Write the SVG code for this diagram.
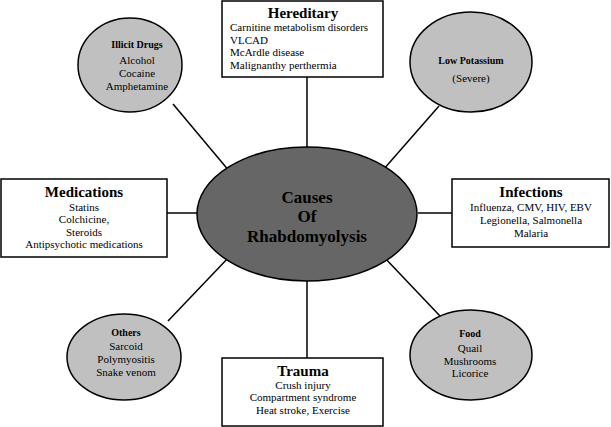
<svg xmlns="http://www.w3.org/2000/svg" width="611" height="427" viewBox="0 0 611 427">
<style>
text{font-family:'Liberation Serif','Times New Roman','DejaVu Serif',serif;fill:#000;text-anchor:middle}
.box{fill:#fff;stroke:#000;stroke-width:1.5}
.oval{fill:#c0c0c0;stroke:#000;stroke-width:1.5}
.hub{fill:#666;stroke:#000;stroke-width:1.5}
.h1{font-size:15px;font-weight:bold}
.h2{font-size:10px;font-weight:bold}
.t{font-size:11px}
.hc{font-size:17px;font-weight:bold}
.l{text-anchor:start}
#connectors line{stroke:#000;stroke-width:1.5}
</style>
<rect width="611" height="427" fill="#fff"/>
<g id="connectors">
<line x1="307" y1="77" x2="307" y2="147"/>
<line x1="307" y1="281" x2="307" y2="358"/>
<line x1="167" y1="213" x2="197" y2="213"/>
<line x1="418" y1="213" x2="452" y2="213"/>
<line x1="173" y1="104" x2="230" y2="172"/>
<line x1="439" y1="106" x2="383" y2="170"/>
<line x1="230" y1="256" x2="168" y2="321"/>
<line x1="383" y1="256" x2="440" y2="316"/>
</g>
<g font-family="Liberation Serif, Times New Roman, DejaVu Serif, serif">
<g id="hub">
<ellipse class="hub" cx="307" cy="214" rx="110" ry="67"/>
<text class="hc" x="307" y="203">Causes</text>
<text class="hc" x="307" y="222">Of</text>
<text class="hc" x="307" y="242">Rhabdomyolysis</text>
</g>
<g id="hereditary">
<rect class="box" x="222" y="1" width="161" height="76"/>
<text class="h1" x="303" y="18">Hereditary</text>
<text class="t l" x="230" y="31">Carnitine metabolism disorders</text>
<text class="t l" x="230" y="44">VLCAD</text>
<text class="t l" x="230" y="56">McArdle disease</text>
<text class="t l" x="230" y="69">Malignanthy perthermia</text>
</g>
<g id="illicit">
<ellipse class="oval" cx="130" cy="65" rx="52" ry="47"/>
<text class="h2" x="137" y="48">Illicit Drugs</text>
<text class="t" x="137" y="64">Alcohol</text>
<text class="t" x="137" y="77">Cocaine</text>
<text class="t" x="137" y="90">Amphetamine</text>
</g>
<g id="potassium">
<ellipse class="oval" cx="471" cy="62" rx="61" ry="50"/>
<text class="h2" x="471" y="64">Low Potassium</text>
<text class="t" x="471" y="82">(Severe)</text>
</g>
<g id="medications">
<rect class="box" x="1" y="179" width="166" height="78"/>
<text class="h1" x="84" y="197">Medications</text>
<text class="t" x="84" y="211">Statins</text>
<text class="t" x="84" y="223">Colchicine,</text>
<text class="t" x="84" y="236">Steroids</text>
<text class="t" x="84" y="248">Antipsychotic medications</text>
</g>
<g id="infections">
<rect class="box" x="452" y="179" width="157" height="68"/>
<text class="h1" x="531" y="197">Infections</text>
<text class="t" x="531" y="211">Influenza, CMV, HIV, EBV</text>
<text class="t" x="531" y="224">Legionella, Salmonella</text>
<text class="t" x="531" y="237">Malaria</text>
</g>
<g id="others">
<ellipse class="oval" cx="124" cy="357" rx="57" ry="43"/>
<text class="h2" x="126" y="336">Others</text>
<text class="t" x="126" y="350">Sarcoid</text>
<text class="t" x="126" y="363">Polymyositis</text>
<text class="t" x="126" y="376">Snake venom</text>
</g>
<g id="trauma">
<rect class="box" x="222" y="358" width="161" height="68"/>
<text class="h1" x="303" y="376">Trauma</text>
<text class="t" x="303" y="389">Crush injury</text>
<text class="t" x="303" y="401">Compartment syndrome</text>
<text class="t" x="303" y="414">Heat stroke, Exercise</text>
</g>
<g id="food">
<ellipse class="oval" cx="471" cy="355" rx="61" ry="45"/>
<text class="h2" x="470" y="337">Food</text>
<text class="t" x="470" y="352">Quail</text>
<text class="t" x="470" y="365">Mushrooms</text>
<text class="t" x="470" y="377">Licorice</text>
</g>
</g>
</svg>
